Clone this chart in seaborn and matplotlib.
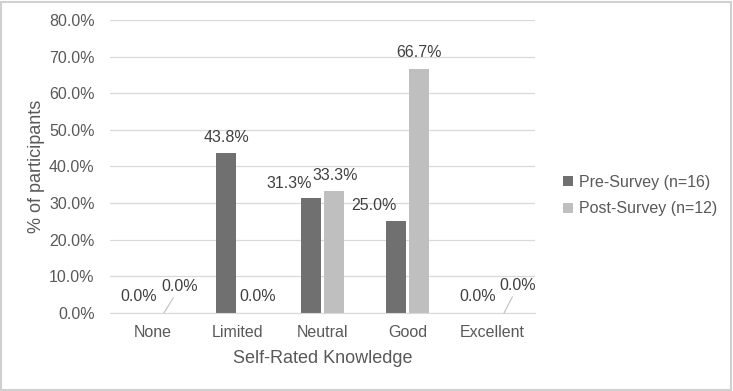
import pandas as pd
import matplotlib.pyplot as plt
import seaborn as sns
from matplotlib.patches import Rectangle

# Chart data
categories = ["None", "Limited", "Neutral", "Good", "Excellent"]
series_names = ["Pre-Survey (n=16)", "Post-Survey (n=12)"]
pre_values = [0.0, 43.8, 31.3, 25.0, 0.0]
post_values = [0.0, 0.0, 33.3, 66.7, 0.0]

# label offsets from bar top (pixels), Excel moved some of them around
pre_offsets = [(-2, -16), (0, -15), (-22, -15), (-22, -16), (-3, -16)]
post_offsets = [(16, -26), (9, -16), (1, -16), (0, -16), (14, -27)]
leader_lines = [True, False, False, False, True]

df = pd.DataFrame({
    "Knowledge": categories * 2,
    "Survey": [series_names[0]] * 5 + [series_names[1]] * 5,
    "Percent": pre_values + post_values,
})

text_col = "#595959"
grid_col = "#d9d9d9"

sns.set_style("white")
plt.rcParams["font.family"] = ["Liberation Sans", "DejaVu Sans"]

fig = plt.figure(figsize=(7.33, 3.91), dpi=100)
ax = fig.add_axes([0.150, 0.1995, 0.580, 0.7495])

sns.barplot(
    data=df, x="Knowledge", y="Percent", hue="Survey",
    palette=["#707070", "#bfbfbf"], width=0.54, gap=0.15,
    linewidth=0, ax=ax,
)

ax.set_ylim(0, 80)
ax.set_yticks(range(0, 81, 10))
ax.set_yticklabels([f"{v:.1f}%" for v in range(0, 81, 10)])
ax.yaxis.grid(True, color=grid_col, linewidth=0.9)
ax.set_axisbelow(True)
for s in ["top", "right", "left"]:
    ax.spines[s].set_visible(False)
ax.spines["bottom"].set_color(grid_col)
ax.tick_params(axis="both", length=0, labelsize=11.5, labelcolor=text_col)
ax.tick_params(axis="x", pad=9)
ax.tick_params(axis="y", pad=11)
ax.set_xlabel("Self-Rated Knowledge", fontsize=13, color=text_col, labelpad=7)
ax.set_ylabel("% of participants", fontsize=13, color=text_col, labelpad=3)

px = 72 / 100
for cont, vals, offs in [(ax.containers[0], pre_values, pre_offsets),
                         (ax.containers[1], post_values, post_offsets)]:
    for i, (bar, v, (dx, dy)) in enumerate(zip(cont, vals, offs)):
        xc = bar.get_x() + bar.get_width() / 2
        arrow = None
        if cont is ax.containers[1] and leader_lines[i]:
            arrow = dict(arrowstyle="-", color="#bfbfbf", lw=0.8, shrinkA=0, shrinkB=0)
        ax.annotate(f"{v:.1f}%", xy=(xc, v), xytext=(dx * px, -dy * px),
                    textcoords="offset points", ha="center", va="center",
                    fontsize=11.5, color="#404040", arrowprops=arrow,
                    annotation_clip=False)

handles, labels = ax.get_legend_handles_labels()
ax.get_legend().remove()
fig.legend(handles, labels, loc="center left", bbox_to_anchor=(0.749, 0.5),
           frameon=False, fontsize=11.5, labelcolor=text_col,
           handlelength=0.6, handleheight=0.6, handletextpad=0.4,
           labelspacing=0.75)

fig.add_artist(Rectangle((0.002, 0.003), 0.995, 0.993, transform=fig.transFigure,
                         fill=False, edgecolor="#d0d0d0", linewidth=1.5))

fig.savefig("out.png", dpi=100)
